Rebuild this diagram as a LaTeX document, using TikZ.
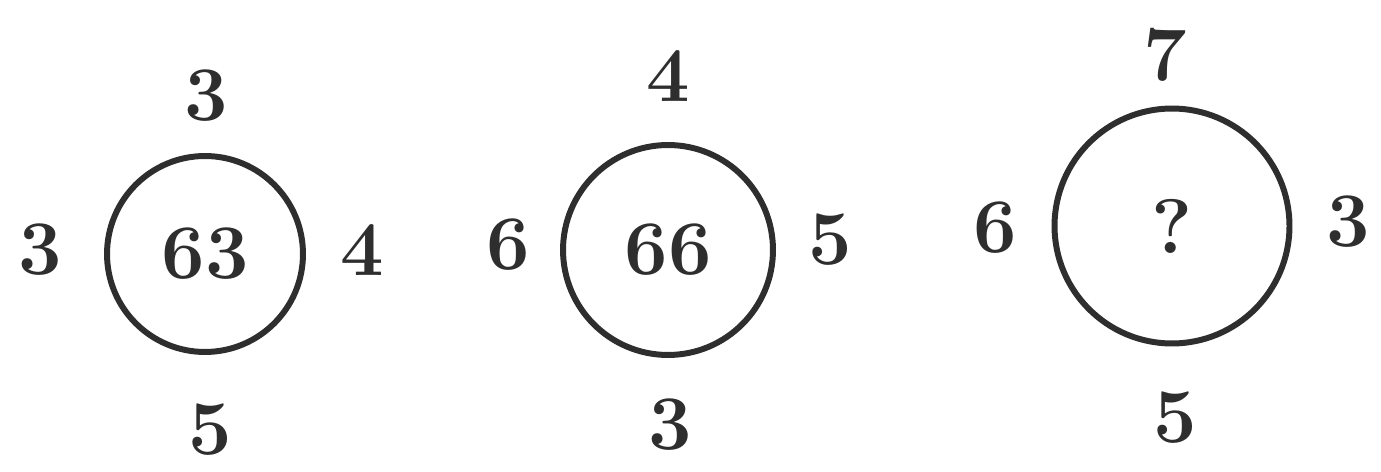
\documentclass[tikz,border=0pt]{standalone}
\usepackage{xcolor}
\definecolor{ink}{HTML}{2E2E2E}
\tikzset{
    ring/.style={circle, draw=ink, line width=3.4pt, inner sep=0pt},
    num/.style={text=ink, font=\fontsize{44}{50}\selectfont\bfseries, inner sep=0pt}
}
\begin{document}
\begin{tikzpicture}[x=0.02cm, y=-0.02cm]
    \useasboundingbox (0, 0) rectangle (1381, 472);
    % first circle
    \node[ring, minimum size=3.92cm] (c1) at (205, 254) {};
    \node[num] (c1m) at (c1) {63};
    \node[num] (c1t) at (206, 96) {3};
    \node[num] (c1l) at (40, 250) {3};
    \node[num] (c1r) at (362, 250) {4};
    \node[num] (c1b) at (210, 430) {5};
    % second circle
    \node[ring, minimum size=4.2cm] (c2) at (668, 250) {};
    \node[num] (c2m) at (c2) {66};
    \node[num] (c2t) at (668, 76) {4};
    \node[num] (c2l) at (508, 245) {6};
    \node[num] (c2r) at (830, 240) {5};
    \node[num] (c2b) at (670, 425) {3};
    % third circle
    \node[ring, minimum size=4.7cm] (c3) at (1172, 226) {};
    \node[num] (c3m) at (c3) {?};
    \node[num] (c3t) at (1165, 55) {7};
    \node[num] (c3l) at (995, 228) {6};
    \node[num] (c3r) at (1348, 222) {3};
    \node[num] (c3b) at (1175, 418) {5};
\end{tikzpicture}
\end{document}
